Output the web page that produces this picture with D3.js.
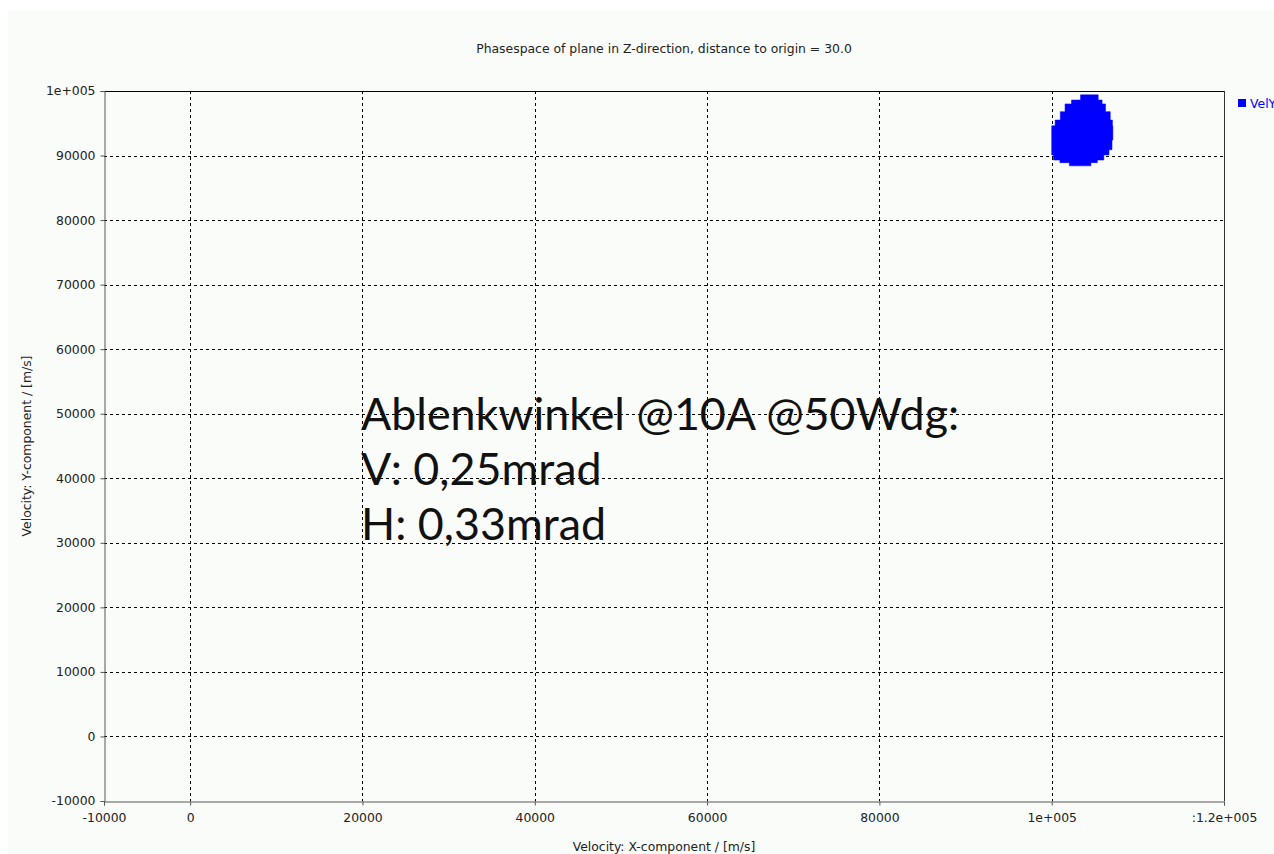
<!DOCTYPE html>
<html>
<head>
<meta charset="utf-8">
<script src="https://cdn.jsdelivr.net/npm/d3@7"></script>
<style>
  body { margin: 0; background: #ffffff; overflow: hidden; }
  svg { display: block; }
  .small { font-family: "DejaVu Sans", sans-serif; font-size: 12.4px; fill: #222; }
</style>
</head>
<body>
<svg id="chart" width="1274" height="854"></svg>
<script>
// chart text
const chartTitle = "Phasespace of plane in Z-direction, distance to origin = 30.0";
const xTitle = "Velocity: X-component / [m/s]";
const yTitle = "Velocity: Y-component / [m/s]";
const legendName = "VelY";
const noteLines = ["Ablenkwinkel @10A @50Wdg:", "V: 0,25mrad", "H: 0,33mrad"];

// axis ticks
const xTicks = [-10000, 0, 20000, 40000, 60000, 80000, 100000, 120000];
const yTicks = [-10000, 0, 10000, 20000, 30000, 40000, 50000, 60000, 70000, 80000, 90000, 100000];

// particle cloud, read row by row: VelY and the VelX extent
const cloudVy   = [99400, 98600, 98000, 96800, 95500, 94600, 92400, 90900, 90100, 89300, 88900, 88400];
const cloudXmin = [104000, 102700, 101900, 101200, 100800, 100000, 100000, 100000, 100000, 100400, 101500, 102600];
const cloudXmax = [105000, 105800, 105900, 106600, 107000, 107100, 107100, 106900, 106400, 105700, 104900, 104200];

const svg = d3.select("#chart");
const W = 1274, H = 854;
const m = { left: 104, right: 1224, top: 91, bottom: 801 };

// panel background
svg.append("rect").attr("x", 8).attr("y", 10).attr("width", W - 8).attr("height", H - 10)
  .attr("fill", "#fafcfa");

const x = d3.scaleLinear().domain([-10000, 120000]).range([m.left, m.right]);
const y = d3.scaleLinear().domain([-10000, 100000]).range([m.bottom, m.top]);

const fmt = (v) => v === 100000 ? "1e+005" : v === 120000 ? ":1.2e+005" : String(v);

// grid
const g = svg.append("g");
g.selectAll(".vgrid").data(xTicks.filter(d => d > -10000 && d < 120000)).enter()
  .append("line")
  .attr("x1", d => Math.round(x(d)) + 0.5).attr("x2", d => Math.round(x(d)) + 0.5)
  .attr("y1", m.top).attr("y2", m.bottom)
  .attr("stroke", "#000").attr("stroke-dasharray", "3,3").attr("stroke-width", 1);
g.selectAll(".hgrid").data(yTicks.filter(d => d > -10000 && d < 100000)).enter()
  .append("line")
  .attr("y1", d => Math.round(y(d)) + 0.5).attr("y2", d => Math.round(y(d)) + 0.5)
  .attr("x1", m.left).attr("x2", m.right)
  .attr("stroke", "#000").attr("stroke-dasharray", "3,3").attr("stroke-width", 1);

// frame: top/right black, left/bottom dark grey axes
svg.append("line").attr("x1", m.left).attr("x2", m.right + 0.5).attr("y1", m.top + 0.5).attr("y2", m.top + 0.5)
  .attr("stroke", "#000");
svg.append("line").attr("x1", m.right + 0.5).attr("x2", m.right + 0.5).attr("y1", m.top).attr("y2", m.bottom)
  .attr("stroke", "#333");

// cloud
const rows = cloudVy.map((v, i) => ({ vy: v, x0: cloudXmin[i], x1: cloudXmax[i] }));
const area = d3.area()
  .y(d => y(d.vy))
  .x0(d => x(d.x0))
  .x1(d => x(d.x1))
  .curve(d3.curveStep);
svg.append("path").datum(rows).attr("d", area).attr("fill", "#0000ff")
  .attr("stroke", "#0000ff").attr("stroke-width", 0.5);

// axes
const xAxis = d3.axisBottom(x).tickValues(xTicks).tickFormat(fmt).tickSize(4).tickPadding(8);
const yAxis = d3.axisLeft(y).tickValues(yTicks).tickFormat(fmt).tickSize(4).tickPadding(5);
const gx = svg.append("g").attr("transform", `translate(0,${m.bottom + 0.5})`).call(xAxis);
const gy = svg.append("g").attr("transform", `translate(${m.left + 0.5},0)`).call(yAxis);
[gx, gy].forEach(a => {
  a.select(".domain").attr("stroke", "#555");
  a.selectAll(".tick line").attr("stroke", "#555");
  a.selectAll(".tick text").attr("class", "small").attr("font-family", null).attr("font-size", null);
});
gx.selectAll(".tick text").attr("fill", "#222");
gy.selectAll(".tick text").attr("fill", "#222");

// titles
svg.append("text").attr("class", "small").attr("x", (m.left + m.right) / 2).attr("y", 53)
  .attr("text-anchor", "middle").text(chartTitle);
svg.append("text").attr("class", "small").attr("x", (m.left + m.right) / 2).attr("y", 851)
  .attr("text-anchor", "middle").text(xTitle);
svg.append("text").attr("class", "small")
  .attr("transform", `translate(31,${(m.top + m.bottom) / 2}) rotate(-90)`)
  .attr("text-anchor", "middle").text(yTitle);

// legend
svg.append("rect").attr("x", 1238).attr("y", 99).attr("width", 8).attr("height", 8).attr("fill", "#0000ff");
svg.append("text").attr("class", "small").attr("x", 1250).attr("y", 108)
  .style("fill", "#0000ff").text(legendName);

// annotation
svg.append("g").selectAll("text").data(noteLines).enter().append("text")
  .attr("x", 361).attr("y", (d, i) => 430 + i * 55)
  .attr("font-family", "Lato, sans-serif").attr("font-size", 44.8).attr("fill", "#111")
  .text(d => d);
</script>
</body>
</html>
